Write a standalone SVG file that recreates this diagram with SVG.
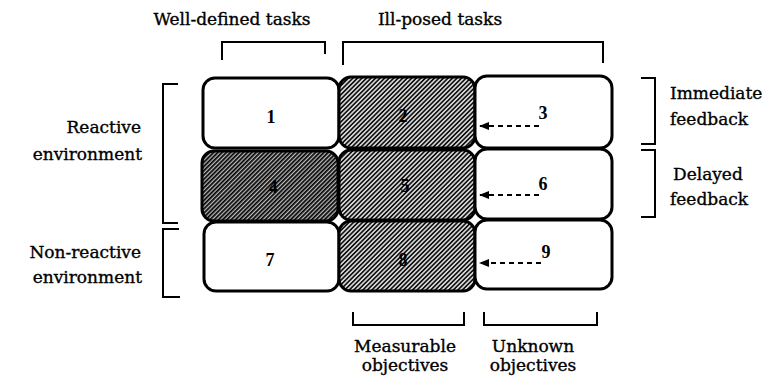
<svg xmlns="http://www.w3.org/2000/svg" width="768" height="384" viewBox="0 0 768 384">
  <defs>
    <!-- diagonal hatch used for the shaded cells -->
    <pattern id="hatch" width="3.2" height="3.2" patternUnits="userSpaceOnUse" patternTransform="rotate(45)">
      <rect width="3.2" height="3.2" fill="#d6d6d6"/>
      <line x1="0.8" y1="0" x2="0.8" y2="3.2" stroke="#111" stroke-width="1.6"/>
    </pattern>
    <pattern id="hatchDark" width="3" height="3" patternUnits="userSpaceOnUse" patternTransform="rotate(45)">
      <rect width="3" height="3" fill="#bdbdbd"/>
      <line x1="0.8" y1="0" x2="0.8" y2="3" stroke="#000" stroke-width="1.8"/>
    </pattern>
    <marker id="arrowhead" viewBox="0 0 10 8" refX="10" refY="4" markerWidth="10" markerHeight="8" markerUnits="userSpaceOnUse" orient="auto">
      <path d="M0,0 L10,4 L0,8 Z" fill="#000"/>
    </marker>
  </defs>
  <style>
    .cell { stroke: #000; stroke-width: 3; }
    .plain { fill: #fff; }
    .shaded { fill: url(#hatch); }
    .dark { fill: url(#hatchDark); }
    .num { font-family: "Liberation Serif", "Times New Roman", serif; font-weight: bold; font-size: 18px; text-anchor: middle; fill: #000; }
    .lbl { font-family: "DejaVu Serif", "Liberation Serif", serif; font-size: 17px; fill: #000; stroke: #000; stroke-width: 0.35; }
    .mid { text-anchor: middle; }
    .end { text-anchor: end; }
    .brk { fill: none; stroke: #000; stroke-width: 2; }
    .conn { fill: none; stroke: #000; stroke-width: 1.8; stroke-dasharray: 5 4; }
  </style>

  <rect width="768" height="384" fill="#fff"/>

  <!-- column headings -->
  <g id="well-defined">
    <text class="lbl mid" x="232" y="25">Well-defined tasks</text>
    <path class="brk" d="M222,60 V42 H325 V54"/>
  </g>
  <g id="ill-posed">
    <text class="lbl mid" x="440" y="25">Ill-posed tasks</text>
    <path class="brk" d="M343,65 V42 H603 V63"/>
  </g>

  <!-- row headings -->
  <g id="reactive">
    <text class="lbl end" x="141" y="133">Reactive</text>
    <text class="lbl end" x="142" y="160">environment</text>
    <path class="brk" d="M178,84 H163 V223 H178"/>
  </g>
  <g id="non-reactive">
    <text class="lbl end" x="141" y="258">Non-reactive</text>
    <text class="lbl end" x="142" y="283">environment</text>
    <path class="brk" d="M179,229 H163 V297 H180"/>
  </g>

  <!-- feedback headings -->
  <g id="immediate">
    <path class="brk" d="M641,78 H655 V144 H641"/>
    <text class="lbl" x="670" y="99">Immediate</text>
    <text class="lbl" x="670" y="125">feedback</text>
  </g>
  <g id="delayed">
    <path class="brk" d="M641,150 H655 V217 H641"/>
    <text class="lbl" x="673" y="180">Delayed</text>
    <text class="lbl" x="670" y="205">feedback</text>
  </g>

  <!-- objective headings -->
  <g id="measurable">
    <path class="brk" d="M353,312 V325 H464 V312"/>
    <text class="lbl mid" x="405" y="352">Measurable</text>
    <text class="lbl mid" x="405" y="371">objectives</text>
  </g>
  <g id="unknown">
    <path class="brk" d="M484,312 V325 H597 V312"/>
    <text class="lbl mid" x="533" y="352">Unknown</text>
    <text class="lbl mid" x="533" y="371">objectives</text>
  </g>

  <!-- 3 x 3 grid of cells -->
  <g id="cell1"><rect class="cell plain" x="203" y="78" width="136" height="70" rx="12"/><text class="num" x="271" y="123">1</text></g>
  <g id="cell2"><rect class="cell shaded" x="339" y="77" width="136" height="71" rx="12"/><text class="num" x="403" y="122">2</text></g>
  <g id="cell3"><rect class="cell plain" x="475" y="76" width="137" height="72" rx="12"/><text class="num" x="543" y="119">3</text></g>

  <g id="cell4"><rect class="cell dark" x="202" y="151" width="136" height="70" rx="12"/><text class="num" x="273" y="193">4</text></g>
  <g id="cell5"><rect class="cell shaded" x="339" y="150" width="136" height="70" rx="12"/><text class="num" x="405" y="192">5</text></g>
  <g id="cell6"><rect class="cell plain" x="475" y="149" width="137" height="70" rx="12"/><text class="num" x="543" y="190">6</text></g>

  <g id="cell7"><rect class="cell plain" x="204" y="222" width="135" height="69" rx="12"/><text class="num" x="270" y="266">7</text></g>
  <g id="cell8"><rect class="cell shaded" x="339" y="221" width="136" height="70" rx="12"/><text class="num" x="403" y="266">8</text></g>
  <g id="cell9"><rect class="cell plain" x="475" y="220" width="137" height="69" rx="12"/><text class="num" x="546" y="258">9</text></g>

  <!-- dashed pointers back to the measurable column -->
  <g id="connectors">
    <path class="conn" d="M539,126 H479" marker-end="url(#arrowhead)"/>
    <path class="conn" d="M539,195 H479" marker-end="url(#arrowhead)"/>
    <path class="conn" d="M541,263 H479" marker-end="url(#arrowhead)"/>
  </g>
</svg>
